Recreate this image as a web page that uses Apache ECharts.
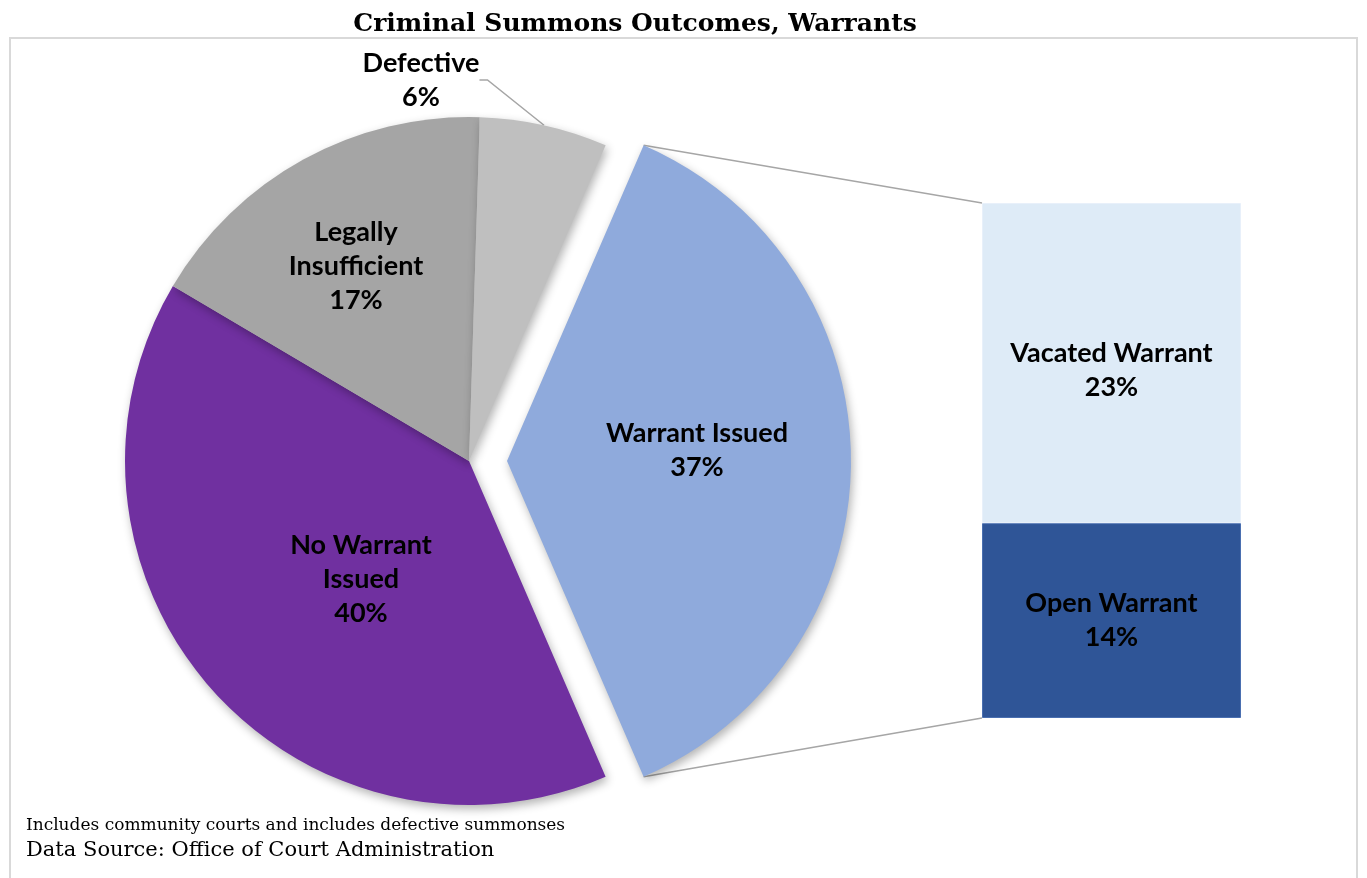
<!DOCTYPE html>
<html>
<head>
<meta charset="utf-8">
<script src="https://cdn.jsdelivr.net/npm/echarts@6/dist/echarts.min.js"></script>
<style>
	html, body { margin: 0; padding: 0; background: #fff; }
	#chart { width: 1367px; height: 878px; }
</style>
</head>
<body>
<div id="chart"></div>
<script>
// pie slices, clockwise from the exploded one
const pieNames = [ 'Warrant Issued', 'No Warrant\nIssued', 'Legally\nInsufficient', 'Defective' ];
const pieValues = [ 37, 40, 17, 6 ];
const pieColors = [ '#8FAADC', '#7030A0', '#A5A5A5', '#BFBFBF' ];

// breakdown of "Warrant Issued" (bottom to top in the bar)
const barNames = [ 'Open Warrant', 'Vacated Warrant' ];
const barValues = [ 14, 23 ];
const barColors = [ '#2F5597', '#DEEBF7' ];

const titleText = 'Criminal Summons Outcomes, Warrants';
const noteText = 'Includes community courts and includes defective summonses';
const sourceText = 'Data Source: Office of Court Administration';

const cx = 469, cy = 461, radius = 344, explode = 38;
const startAngle = 66.6;
// label centres for the pie slices
const labelPos = [ [ 697, 450 ], [ 361, 579 ], [ 356, 266 ], [ 421, 80 ] ];

const pieTotal = pieValues.reduce( ( a, b ) => a + b, 0 );
const barTotal = barValues.reduce( ( a, b ) => a + b, 0 );
const labelFont = { fontFamily: 'Lato', fontWeight: 'bold', fontSize: 27, lineHeight: 34, color: '#000' };

const myChart = echarts.init( document.getElementById( 'chart' ) );

// transparent filler so the two pie series share the same angles
const filler = value => ( {
	value,
	itemStyle: { color: 'rgba(0,0,0,0)', shadowBlur: 0, shadowColor: 'rgba(0,0,0,0)' },
	label: { show: false },
	labelLine: { show: false },
	filler: true
} );

const pieItem = i => ( {
	name: pieNames[i],
	value: pieValues[i],
	itemStyle: { color: pieColors[i] },
	label: { position: i === 3 ? 'outside' : 'inside' },
	labelLine: { show: i === 3 },
	idx: i
} );

const explodedData = [ pieItem( 0 ), filler( pieTotal - pieValues[0] ) ];
const restData = [ filler( pieValues[0] ) ].concat( pieValues.slice( 1 ).map( ( v, k ) => pieItem( k + 1 ) ) );

const pieBase = {
	type: 'pie',
	radius: radius,
	startAngle: startAngle,
	clockwise: true,
	avoidLabelOverlap: false,
	itemStyle: {
		borderWidth: 0,
		shadowBlur: 10,
		shadowColor: 'rgba(0,0,0,0.3)',
		shadowOffsetX: 2,
		shadowOffsetY: 4
	},
	label: {
		formatter: p => p.name + '\n' + p.value + '%',
		...labelFont
	},
	labelLine: {
		length: 50,
		length2: 8,
		lineStyle: { color: '#A6A6A6', width: 1.5 }
	},
	emphasis: { disabled: true },
	silent: true
};

const barSeries = barNames.map( ( name, i ) => ( {
	type: 'bar',
	name,
	stack: 'w',
	barWidth: '100%',
	data: [ barValues[i] ],
	itemStyle: { color: barColors[i], borderColor: i === 0 ? '#4A6FB0' : '#E8F0FA', borderWidth: 1 },
	label: {
		show: true,
		position: 'inside',
		offset: i === 1 ? [ 0, 7 ] : [ 0, 0 ],
		formatter: p => p.seriesName + '\n' + p.value + '%',
		...labelFont
	},
	emphasis: { disabled: true },
	silent: true
} ) );

const option = {
	animation: false,
	title: {
		text: titleText,
		left: 630,
		textAlign: 'center',
		top: 7,
		textStyle: { fontFamily: 'DejaVu Serif', fontWeight: 'bold', fontSize: 25, color: '#000' }
	},
	grid: { left: 982, top: 203, width: 259, height: 515 },
	xAxis: { type: 'category', data: [ 'Warrant Issued' ], show: false },
	yAxis: { type: 'value', min: 0, max: barTotal, show: false },
	graphic: [
		{
			type: 'rect',
			shape: { x: 10, y: 38, width: 1347, height: 860 },
			style: { fill: 'none', stroke: '#D9D9D9', lineWidth: 2 },
			z: -10
		},
		{
			type: 'text',
			left: 26,
			top: 817,
			style: { text: noteText, font: '17px "DejaVu Serif"', fill: '#000' }
		},
		{
			type: 'text',
			left: 26,
			top: 840,
			style: { text: sourceText, font: '21px "DejaVu Serif"', fill: '#000' }
		}
	],
	series: [
		{
			...pieBase,
			center: [ cx, cy ],
			data: restData,
			labelLayout: function ( p ) {
				const pos = labelPos[p.dataIndex];
				return { x: pos[0], y: pos[1], align: 'center', verticalAlign: 'middle' };
			}
		},
		{
			...pieBase,
			center: [ cx + explode, cy ],
			data: explodedData,
			labelLayout: function ( p ) {
				const pos = labelPos[0];
				return { x: pos[0], y: pos[1], align: 'center', verticalAlign: 'middle' };
			}
		},
		...barSeries
	]
};

myChart.setOption( option );

// connector lines from the exploded slice to the bar
const sliceStart = 90 - startAngle;
const sliceEnd = sliceStart + 360 * pieValues[0] / pieTotal;
const ox = cx + explode, oy = cy;
const edge = a => [ ox + radius * Math.sin( a * Math.PI / 180 ), oy - radius * Math.cos( a * Math.PI / 180 ) ];
const p1 = edge( sliceStart );
const p2 = edge( sliceEnd );
const barTop = myChart.convertToPixel( { gridIndex: 0 }, [ 0, barTotal ] );
const barBottom = myChart.convertToPixel( { gridIndex: 0 }, [ 0, 0 ] );
const barLeft = option.grid.left;

myChart.setOption( {
	graphic: option.graphic.concat( [
		{
			type: 'polyline',
			shape: { points: [ p1, [ barLeft, barTop[1] ] ] },
			style: { stroke: '#A6A6A6', lineWidth: 1.5, fill: 'none' }
		},
		{
			type: 'polyline',
			shape: { points: [ p2, [ barLeft, barBottom[1] ] ] },
			style: { stroke: '#A6A6A6', lineWidth: 1.5, fill: 'none' }
		}
	] )
} );
</script>
</body>
</html>
